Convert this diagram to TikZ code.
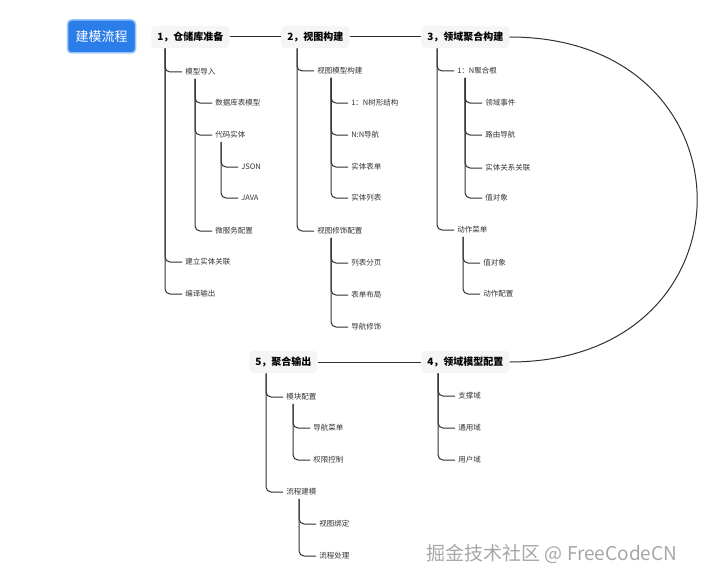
\documentclass[tikz,border=0pt]{standalone}
\usepackage{fontspec}
\setmainfont{Noto Sans CJK SC}
\usetikzlibrary{positioning, calc}
\definecolor{titleblue}{HTML}{2B7DE9}
\definecolor{titleedge}{HTML}{9CC6F7}
\definecolor{linegray}{HTML}{303030}

\begin{document}
\begin{tikzpicture}[x=1pt, y=-1pt, semithick,
    title/.style={fill=titleblue, draw=titleedge, line width=1.5pt, rounded corners=4pt,
        text=white, font=\fontsize{13}{15}\selectfont, inner xsep=8pt, minimum height=33pt},
    topic/.style={anchor=west, fill=black!4, rounded corners=4pt, inner xsep=6pt, inner ysep=6pt,
        font=\fontsize{10}{12}\selectfont\bfseries},
    leaf/.style={anchor=west, inner sep=3pt, text=black!80, font=\fontsize{7.5}{9}\selectfont},
    link/.style={draw=linegray, line width=1pt},
    every edge/.style={draw=linegray, line width=1pt, rounded corners=5pt,
        to path={($(\tikztostart.south -| \tikztotarget.west)+(-17,0)$) |- (\tikztotarget.west)}},
    watermark/.style={anchor=west, text=black!35, font=\fontsize{19}{21}\selectfont}]

    \useasboundingbox (0,0) rectangle (720,586);

    \node[title] (root) at (101.5,36.5) {建模流程};

    % main steps
    \node[topic] (t1) at (151,37) {1，仓储库准备};
    \node[topic] (t2) at (281,37) {2，视图构建};
    \node[topic] (t3) at (421,37) {3，领域聚合构建};
    \node[topic] (t4) at (421,362) {4，领域模型配置};
    \node[topic] (t5) at (249,362) {5，聚合输出};

    \draw[link] (t1) -- (t2);
    \draw[link] (t2) -- (t3);
    \draw[link] (t3.east) .. controls +(250,0) and +(250,0) .. (t4.east);
    \draw[link] (t4) -- (t5);

    % 1
    \node[leaf] (import) at (182,72) {模型导入};
    \node[leaf] (dbmodel) at (212,103) {数据库表模型};
    \node[leaf] (codeent) at (212,135) {代码实体};
    \node[leaf] (json) at (238,167) {JSON};
    \node[leaf] (java) at (238,198) {JAVA};
    \node[leaf] (msconf) at (212,231) {微服务配置};
    \node[leaf] (entrel) at (182,262) {建立实体关联};
    \node[leaf] (compile) at (182,294) {编译输出};

    \path (t1) edge (import) edge (entrel) edge (compile)
          (import) edge (dbmodel) edge (codeent) edge (msconf)
          (codeent) edge (json) edge (java);

    % 2
    \node[leaf] (vmodel) at (314,71) {视图模型构建};
    \node[leaf] (treeform) at (348,103) {1：N树形结构};
    \node[leaf] (nnnav) at (348,135) {N:N导航};
    \node[leaf] (eform) at (348,167) {实体表单};
    \node[leaf] (elist) at (348,198) {实体列表};
    \node[leaf] (vdeco) at (314,231) {视图修饰配置};
    \node[leaf] (paging) at (348,263) {列表分页};
    \node[leaf] (layout) at (348,295) {表单布局};
    \node[leaf] (navdeco) at (348,327) {导航修饰};

    \path (t2) edge (vmodel) edge (vdeco)
          (vmodel) edge (treeform) edge (nnnav) edge (eform) edge (elist)
          (vdeco) edge (paging) edge (layout) edge (navdeco);

    % 3
    \node[leaf] (aggroot) at (454,71) {1：N聚合根};
    \node[leaf] (devent) at (482,103) {领域事件};
    \node[leaf] (route) at (482,135) {路由导航};
    \node[leaf] (erel) at (482,168) {实体关系关联};
    \node[leaf] (vobj) at (482,198) {值对象};
    \node[leaf] (amenu) at (454,230) {动作菜单};
    \node[leaf] (vobjb) at (480,263) {值对象};
    \node[leaf] (aconf) at (480,294) {动作配置};

    \path (t3) edge (aggroot) edge (amenu)
          (aggroot) edge (devent) edge (route) edge (erel) edge (vobj)
          (amenu) edge (vobjb) edge (aconf);

    % 4
    \node[leaf] (support) at (455,396) {支撑域};
    \node[leaf] (generic) at (455,428) {通用域};
    \node[leaf] (user) at (455,460) {用户域};

    \path (t4) edge (support) edge (generic) edge (user);

    % 5
    \node[leaf] (module) at (283,397) {模块配置};
    \node[leaf] (navmenu) at (310,428) {导航菜单};
    \node[leaf] (perm) at (310,460) {权限控制};
    \node[leaf] (flow) at (283,492) {流程建模};
    \node[leaf] (vbind) at (316,524) {视图绑定};
    \node[leaf] (fproc) at (316,556) {流程处理};

    \path (t5) edge (module) edge (flow)
          (module) edge (navmenu) edge (perm)
          (flow) edge (vbind) edge (fproc);

    \node[watermark] (wm) at (423,554) {掘金技术社区 @ FreeCodeCN};
\end{tikzpicture}
\end{document}
